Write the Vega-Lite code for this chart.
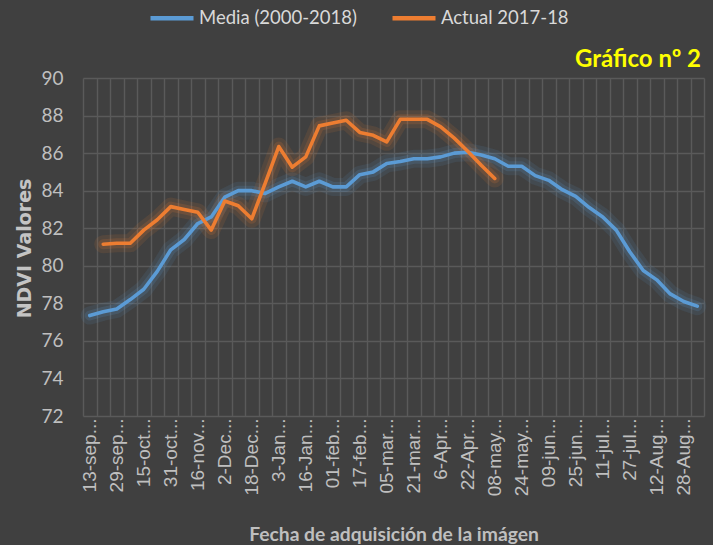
{
  "$schema": "https://vega.github.io/schema/vega-lite/v6.json",
  "width": 621,
  "height": 338,
  "autosize": {"type": "none"},
  "padding": {"left": 83, "top": 78, "right": 9, "bottom": 129},
  "background": "#404040",
  "title": {
    "text": "Gráfico nº 2",
    "anchor": "end",
    "frame": "group",
    "color": "#ffff00",
    "font": "Lato",
    "fontSize": 24,
    "fontWeight": "bold",
    "baseline": "alphabetic",
    "offset": 11,
    "dy": 108,
    "dx": -3
  },
  "data": {
    "values": [
      {"d": "13-sep", "s": "Media (2000-2018)", "v": 77.35},
      {"d": "21-sep", "s": "Media (2000-2018)", "v": 77.55},
      {"d": "29-sep", "s": "Media (2000-2018)", "v": 77.7},
      {"d": "07-oct", "s": "Media (2000-2018)", "v": 78.2},
      {"d": "15-oct", "s": "Media (2000-2018)", "v": 78.75},
      {"d": "23-oct", "s": "Media (2000-2018)", "v": 79.7},
      {"d": "31-oct", "s": "Media (2000-2018)", "v": 80.85},
      {"d": "08-nov", "s": "Media (2000-2018)", "v": 81.4},
      {"d": "16-nov", "s": "Media (2000-2018)", "v": 82.25},
      {"d": "24-nov", "s": "Media (2000-2018)", "v": 82.6},
      {"d": "2-Dec", "s": "Media (2000-2018)", "v": 83.65},
      {"d": "10-Dec", "s": "Media (2000-2018)", "v": 84.0},
      {"d": "18-Dec", "s": "Media (2000-2018)", "v": 84.0},
      {"d": "26-Dec", "s": "Media (2000-2018)", "v": 83.85},
      {"d": "3-Jan", "s": "Media (2000-2018)", "v": 84.2},
      {"d": "9-Jan", "s": "Media (2000-2018)", "v": 84.5},
      {"d": "16-Jan", "s": "Media (2000-2018)", "v": 84.2},
      {"d": "24-Jan", "s": "Media (2000-2018)", "v": 84.5},
      {"d": "01-feb", "s": "Media (2000-2018)", "v": 84.2},
      {"d": "09-feb", "s": "Media (2000-2018)", "v": 84.2},
      {"d": "17-feb", "s": "Media (2000-2018)", "v": 84.85},
      {"d": "25-feb", "s": "Media (2000-2018)", "v": 85.0},
      {"d": "05-mar", "s": "Media (2000-2018)", "v": 85.45},
      {"d": "13-mar", "s": "Media (2000-2018)", "v": 85.55},
      {"d": "21-mar", "s": "Media (2000-2018)", "v": 85.7},
      {"d": "29-mar", "s": "Media (2000-2018)", "v": 85.7},
      {"d": "6-Apr", "s": "Media (2000-2018)", "v": 85.8},
      {"d": "14-Apr", "s": "Media (2000-2018)", "v": 86.0},
      {"d": "22-Apr", "s": "Media (2000-2018)", "v": 86.05},
      {"d": "30-Apr", "s": "Media (2000-2018)", "v": 85.9},
      {"d": "08-may", "s": "Media (2000-2018)", "v": 85.7},
      {"d": "16-may", "s": "Media (2000-2018)", "v": 85.3},
      {"d": "24-may", "s": "Media (2000-2018)", "v": 85.3},
      {"d": "01-jun", "s": "Media (2000-2018)", "v": 84.8},
      {"d": "09-jun", "s": "Media (2000-2018)", "v": 84.55},
      {"d": "17-jun", "s": "Media (2000-2018)", "v": 84.05},
      {"d": "25-jun", "s": "Media (2000-2018)", "v": 83.7},
      {"d": "03-jul", "s": "Media (2000-2018)", "v": 83.1},
      {"d": "11-jul", "s": "Media (2000-2018)", "v": 82.6},
      {"d": "19-jul", "s": "Media (2000-2018)", "v": 81.9},
      {"d": "27-jul", "s": "Media (2000-2018)", "v": 80.75},
      {"d": "04-Aug", "s": "Media (2000-2018)", "v": 79.75},
      {"d": "12-Aug", "s": "Media (2000-2018)", "v": 79.25},
      {"d": "20-Aug", "s": "Media (2000-2018)", "v": 78.5},
      {"d": "28-Aug", "s": "Media (2000-2018)", "v": 78.1},
      {"d": "05-sep", "s": "Media (2000-2018)", "v": 77.85},
      {"d": "21-sep", "s": "Actual 2017-18", "v": 81.15},
      {"d": "29-sep", "s": "Actual 2017-18", "v": 81.2},
      {"d": "07-oct", "s": "Actual 2017-18", "v": 81.2},
      {"d": "15-oct", "s": "Actual 2017-18", "v": 81.9},
      {"d": "23-oct", "s": "Actual 2017-18", "v": 82.45},
      {"d": "31-oct", "s": "Actual 2017-18", "v": 83.15},
      {"d": "08-nov", "s": "Actual 2017-18", "v": 83.0},
      {"d": "16-nov", "s": "Actual 2017-18", "v": 82.85},
      {"d": "24-nov", "s": "Actual 2017-18", "v": 81.9},
      {"d": "2-Dec", "s": "Actual 2017-18", "v": 83.45},
      {"d": "10-Dec", "s": "Actual 2017-18", "v": 83.2},
      {"d": "18-Dec", "s": "Actual 2017-18", "v": 82.5},
      {"d": "26-Dec", "s": "Actual 2017-18", "v": 84.4},
      {"d": "3-Jan", "s": "Actual 2017-18", "v": 86.35},
      {"d": "9-Jan", "s": "Actual 2017-18", "v": 85.25},
      {"d": "16-Jan", "s": "Actual 2017-18", "v": 85.8},
      {"d": "24-Jan", "s": "Actual 2017-18", "v": 87.45},
      {"d": "01-feb", "s": "Actual 2017-18", "v": 87.6},
      {"d": "09-feb", "s": "Actual 2017-18", "v": 87.75},
      {"d": "17-feb", "s": "Actual 2017-18", "v": 87.1},
      {"d": "25-feb", "s": "Actual 2017-18", "v": 86.95},
      {"d": "05-mar", "s": "Actual 2017-18", "v": 86.6},
      {"d": "13-mar", "s": "Actual 2017-18", "v": 87.8},
      {"d": "21-mar", "s": "Actual 2017-18", "v": 87.8},
      {"d": "29-mar", "s": "Actual 2017-18", "v": 87.8},
      {"d": "6-Apr", "s": "Actual 2017-18", "v": 87.4},
      {"d": "14-Apr", "s": "Actual 2017-18", "v": 86.8},
      {"d": "22-Apr", "s": "Actual 2017-18", "v": 86.1},
      {"d": "30-Apr", "s": "Actual 2017-18", "v": 85.35},
      {"d": "08-may", "s": "Actual 2017-18", "v": 84.65}
    ]
  },
  "encoding": {
    "x": {
      "field": "d",
      "type": "nominal",
      "sort": null,
      "bandPosition": 0.5,
      "scale": {"type": "band", "paddingInner": 0, "paddingOuter": 0},
      "axis": {
        "title": "Fecha de adquisición de la imágen",
        "tickBand": "extent",
        "ticks": false,
        "domain": false,
        "grid": true,
        "gridColor": "#5a5a5a",
        "gridWidth": 1.4,
        "labelAngle": -90,
        "labelAlign": "right",
        "labelBaseline": "middle",
        "labelPadding": 2,
        "labelFont": "Liberation Sans",
        "labelFontSize": 19,
        "labelColor": "#bfbfbf",
        "labelOverlap": false,
        "labelExpr": "indexof(['13-sep','29-sep','15-oct','31-oct','16-nov','2-Dec','18-Dec','3-Jan','16-Jan','01-feb','17-feb','05-mar','21-mar','6-Apr','22-Apr','08-may','24-may','09-jun','25-jun','11-jul','27-jul','12-Aug','28-Aug'], datum.value) >= 0 ? datum.value + '...' : ''",
        "titleFont": "Lato",
        "titleFontSize": 19.3,
        "titleFontWeight": "bold",
        "titleColor": "#bfbfbf",
        "titleBaseline": "alphabetic",
        "titleY": 124
      }
    },
    "y": {
      "field": "v",
      "type": "quantitative",
      "scale": {"domain": [72, 90], "nice": false, "zero": false},
      "axis": {
        "title": "NDVI Valores",
        "values": [72, 74, 76, 78, 80, 82, 84, 86, 88, 90],
        "ticks": false,
        "domain": false,
        "grid": true,
        "gridColor": "#5a5a5a",
        "gridWidth": 1.4,
        "labelPadding": 20,
        "labelFont": "Lato",
        "labelFontSize": 19,
        "labelColor": "#bfbfbf",
        "titleFont": "DejaVu Sans",
        "titleFontSize": 19,
        "titleFontWeight": "bold",
        "titleColor": "#c4c4c4",
        "titleAngle": -90,
        "titleAlign": "center",
        "titleBaseline": "middle",
        "titleX": -59,
        "titleY": 170
      }
    },
    "color": {
      "field": "s",
      "type": "nominal",
      "scale": {
        "domain": ["Media (2000-2018)", "Actual 2017-18"],
        "range": ["#5b9bd5", "#ed7d31"]
      },
      "legend": {
        "orient": "none",
        "legendX": 65,
        "legendY": -84,
        "direction": "horizontal",
        "title": null,
        "padding": 0,
        "symbolType": "stroke",
        "symbolStrokeWidth": 4.5,
        "symbolSize": 1850,
        "symbolOpacity": 1,
        "labelFont": "Lato",
        "labelFontSize": 18.5,
        "labelColor": "#d9d9d9",
        "labelOffset": 3,
        "labelLimit": 300,
        "columnPadding": 26
      }
    }
  },
  "layer": [
    {
      "mark": {"type": "line", "strokeWidth": 18, "opacity": 0.11, "strokeCap": "round", "strokeJoin": "round"}
    },
    {
      "mark": {"type": "line", "strokeWidth": 10, "opacity": 0.16, "strokeCap": "round", "strokeJoin": "round"}
    },
    {
      "transform": [{"filter": "datum.s == 'Media (2000-2018)'"}],
      "mark": {"type": "line", "strokeWidth": 3.6, "strokeCap": "round", "strokeJoin": "round"}
    },
    {
      "transform": [{"filter": "datum.s == 'Actual 2017-18'"}],
      "mark": {"type": "line", "strokeWidth": 3.6, "strokeCap": "round", "strokeJoin": "round"}
    }
  ],
  "config": {
    "view": {"stroke": null}
  }
}
